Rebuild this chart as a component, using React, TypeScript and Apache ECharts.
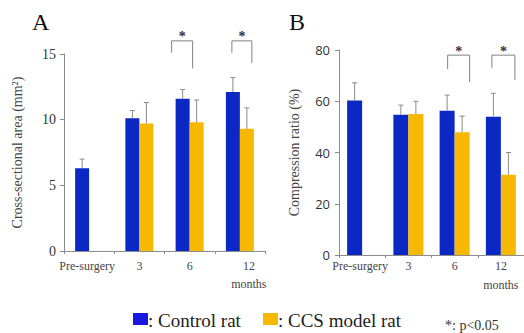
import React, { useEffect, useRef } from "react";
import * as echarts from "echarts";

const categories = ["Pre-surgery", "3", "6", "12\nmonths"];

// Panel A: cross-sectional area (mm²)
const controlArea = [6.3, 10.1, 11.6, 12.1];
const controlAreaUpper = [7.0, 10.7, 12.3, 13.2];
const ccsArea = [null, 9.7, 9.8, 9.3];
const ccsAreaUpper = [null, 11.3, 11.5, 10.9];

// Panel B: compression ratio (%)
const controlRatio = [60.3, 54.7, 56.3, 54.0];
const controlRatioUpper = [67.2, 58.5, 62.4, 63.1];
const ccsRatio = [null, 55.0, 47.9, 31.3];
const ccsRatioUpper = [null, 60.0, 54.2, 40.0];

// significance brackets: [category index, top, left leg bottom, right leg bottom]
const sigA = [
  [2, 16.0, 15.1, 13.9],
  [3, 16.0, 15.1, 14.3],
];
const sigB = [
  [2, 78, 72.6, 67.5],
  [3, 78, 73, 68.3],
];

const ticksA = [0, 5, 10, 15];
const ticksB = [0, 20, 40, 60, 80];

const legendNames = ["Control rat", "CCS model rat"];

// layout-only: bracket horizontal extents relative to category centre (px)
const bracketOffsetsA = [[-18, 3], [-8, 12]];
const bracketOffsetsB = [[-7, 15], [-9, 14]];
// layout-only: per-label horizontal padding [left, right]
const labelPadA = [[0, 4], [0, 0], [0, 0], [18, 0]];
const labelPadB = [[0, 4], [0, 0], [0, 0], [0, 0]];

const BLUE = "#0b27c4";
const ORANGE = "#f6b800";
const SERIF = "Liberation Serif";

function errSeries(values: (number | null)[], uppers: (number | null)[], axis: number, side: number, bw: number) {
  const data = values.map((v, i) => (v == null ? null : [i, v, uppers[i]]));
  return {
    type: "custom",
    xAxisIndex: axis,
    yAxisIndex: axis,
    z: 5,
    silent: true,
    data: data.filter((d) => d != null),
    renderItem: (params: any, api: any) => {
      const top = api.coord([api.value(0), api.value(2)]);
      const base = api.coord([api.value(0), api.value(1)]);
      const x = top[0] + (side * bw) / 2;
      const st = { stroke: "#8a8a8a", lineWidth: 1 };
      return {
        type: "group",
        children: [
          { type: "line", shape: { x1: x, y1: base[1], x2: x, y2: top[1] }, style: st },
          { type: "line", shape: { x1: x - 2.5, y1: top[1], x2: x + 2.5, y2: top[1] }, style: st },
        ],
      };
    },
  };
}

function sigSeries(data: number[][], offsets: number[][], axis: number) {
  return {
    type: "custom",
    xAxisIndex: axis,
    yAxisIndex: axis,
    z: 6,
    silent: true,
    data,
    renderItem: (params: any, api: any) => {
      const i = params.dataIndex;
      const topC = api.coord([api.value(0), api.value(1)]);
      const lb = api.coord([api.value(0), api.value(2)]);
      const rb = api.coord([api.value(0), api.value(3)]);
      const x1 = topC[0] + offsets[i][0];
      const x2 = topC[0] + offsets[i][1];
      const st = { stroke: "#808080", lineWidth: 1 };
      return {
        type: "group",
        children: [
          { type: "polyline", shape: { points: [[x1, lb[1]], [x1, topC[1]], [x2, topC[1]], [x2, rb[1]]] }, style: { ...st, fill: null } },
          {
            type: "text",
            style: {
              text: "*",
              x: (x1 + x2) / 2,
              y: topC[1] + 3,
              align: "center",
              verticalAlign: "bottom",
              fontFamily: SERIF,
              fontSize: 14,
              fontWeight: "bold",
              fill: "#333",
            },
          },
        ],
      };
    },
  };
}

function catData(pads: number[][]) {
  return categories.map((c, i) => ({
    value: c,
    textStyle: { padding: [0, pads[i][1], 0, pads[i][0]] },
  }));
}

export default function App() {
  const ref = useRef<HTMLDivElement>(null);
  useEffect(() => {
    if (!ref.current) return;
    const chart = echarts.init(ref.current, undefined, { renderer: "svg" });
    const axisLineStyle = { lineStyle: { color: "#8c8c8c", width: 1 } };
    const xLabel = (margin: number, lh: number) => ({
      fontFamily: SERIF,
      fontSize: 12,
      color: "#444",
      lineHeight: lh,
      margin,
      interval: 0,
    });
    chart.setOption({
      animation: false,
      backgroundColor: "#ffffff",
      grid: [
        { left: 64, right: 259, top: 54, bottom: 82 },
        { left: 339, right: -4, top: 50, bottom: 78 },
      ],
      xAxis: [
        {
          gridIndex: 0,
          type: "category",
          data: catData(labelPadA),
          axisLine: axisLineStyle,
          axisTick: { show: true, length: 3, lineStyle: { color: "#8c8c8c" } },
          axisLabel: xLabel(6, 18),
        },
        {
          gridIndex: 1,
          type: "category",
          data: catData(labelPadB),
          axisLine: axisLineStyle,
          axisTick: { show: true, length: 3, lineStyle: { color: "#8c8c8c" } },
          axisLabel: xLabel(1, 19),
        },
      ],
      yAxis: [
        {
          gridIndex: 0,
          type: "value",
          min: ticksA[0],
          max: ticksA[ticksA.length - 1],
          interval: 5,
          axisLine: { show: true, ...axisLineStyle },
          axisTick: { show: true, length: 4, lineStyle: { color: "#8c8c8c" } },
          splitLine: { show: false },
          axisLabel: { fontFamily: SERIF, fontSize: 14, color: "#333", margin: 8 },
          name: "Cross-sectional area (mm²)",
          nameLocation: "middle",
          nameGap: 40,
          nameRotate: 90,
          nameTextStyle: { fontFamily: SERIF, fontSize: 14, color: "#444" },
        },
        {
          gridIndex: 1,
          type: "value",
          min: ticksB[0],
          max: ticksB[ticksB.length - 1],
          interval: 20,
          axisLine: { show: true, ...axisLineStyle },
          axisTick: { show: true, length: 4, lineStyle: { color: "#8c8c8c" } },
          splitLine: { show: false },
          axisLabel: { fontFamily: "Open Sans", fontSize: 13, color: "#333", margin: 9 },
          name: "Compression ratio (%)",
          nameLocation: "middle",
          nameGap: 38,
          nameRotate: 90,
          nameTextStyle: { fontFamily: SERIF, fontSize: 14, color: "#444" },
        },
      ],
      series: [
        { type: "bar", name: legendNames[0], xAxisIndex: 0, yAxisIndex: 0, data: controlArea, barWidth: 14, barGap: "0%", itemStyle: { color: BLUE } },
        { type: "bar", name: legendNames[1], xAxisIndex: 0, yAxisIndex: 0, data: ccsArea.map((v) => (v == null ? "-" : v)), barWidth: 14, barGap: "0%", itemStyle: { color: ORANGE } },
        { type: "bar", name: legendNames[0], xAxisIndex: 1, yAxisIndex: 1, data: controlRatio, barWidth: 15, barGap: "0%", itemStyle: { color: BLUE } },
        { type: "bar", name: legendNames[1], xAxisIndex: 1, yAxisIndex: 1, data: ccsRatio.map((v) => (v == null ? "-" : v)), barWidth: 15, barGap: "0%", itemStyle: { color: ORANGE } },
        errSeries(controlArea, controlAreaUpper, 0, -1, 14),
        errSeries(ccsArea, ccsAreaUpper, 0, 1, 14),
        errSeries(controlRatio, controlRatioUpper, 1, -1, 15),
        errSeries(ccsRatio, ccsRatioUpper, 1, 1, 15),
        sigSeries(sigA, bracketOffsetsA, 0),
        sigSeries(sigB, bracketOffsetsB, 1),
      ],
      graphic: [
        { type: "text", left: 32, top: 10, style: { text: "A", fontFamily: SERIF, fontSize: 24, fill: "#111" } },
        { type: "text", left: 289, top: 10, style: { text: "B", fontFamily: SERIF, fontSize: 24, fill: "#111" } },
        { type: "rect", shape: { x: 133, y: 313, width: 15, height: 12 }, style: { fill: "#1818e0" } },
        { type: "text", x: 148, y: 320, style: { text: ": " + legendNames[0], fontFamily: SERIF, fontSize: 19, fill: "#222", verticalAlign: "middle" } },
        { type: "rect", shape: { x: 263, y: 313, width: 15, height: 12 }, style: { fill: ORANGE } },
        { type: "text", x: 278, y: 320, style: { text: ": " + legendNames[1], fontFamily: SERIF, fontSize: 19, fill: "#222", verticalAlign: "middle" } },
        { type: "text", x: 445, y: 325, style: { text: "*: p<0.05", fontFamily: SERIF, fontSize: 14, fill: "#333", verticalAlign: "middle" } },
      ],
    });
    return () => chart.dispose();
  }, []);
  return (
    <div
      ref={ref}
      style={{ position: "fixed", left: 0, top: 0, width: 524, height: 333 }}
    />
  );
}
